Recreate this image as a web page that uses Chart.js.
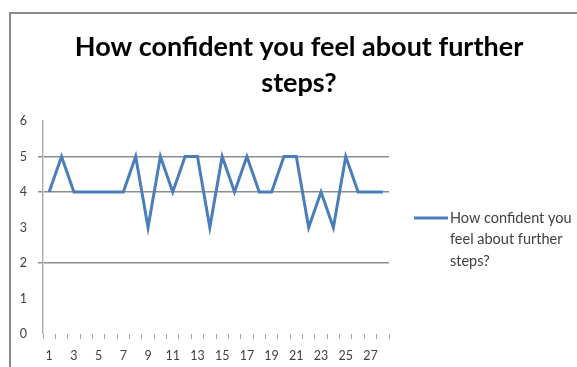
<!DOCTYPE html>
<html>
<head>
<meta charset="utf-8">
<script src="https://cdn.jsdelivr.net/npm/chart.js@4/dist/chart.umd.min.js"></script>
<style>
  html, body { margin: 0; padding: 0; background: #ffffff; }
  #wrap { position: relative; width: 577px; height: 367px; }
</style>
</head>
<body>
<div id="wrap"><canvas id="c" width="577" height="367"></canvas></div>
<script>
const categories = ['1','2','3','4','5','6','7','8','9','10','11','12','13','14','15','16','17','18','19','20','21','22','23','24','25','26','27','28'];
const seriesName = 'How confident you feel about further steps?';
const seriesValues = [4,5,4,4,4,4,4,5,3,5,4,5,5,3,5,4,5,4,4,5,5,3,4,3,5,4,4,4];
const titleLines = ['How confident you feel about further', 'steps?'];
const legendLines = ['How confident you', 'feel about further', 'steps?'];
const yTickValues = [0, 1, 2, 3, 4, 5, 6];
const visibleGridValues = [2, 4, 5];

const LINE_COLOR = '#4a7ebb';

const decorPlugin = {
  id: 'decor',
  beforeDraw(chart) {
    const ctx = chart.ctx;
    ctx.save();
    ctx.fillStyle = '#ffffff';
    ctx.fillRect(0, 0, chart.width, chart.height);
    // outer frame
    ctx.strokeStyle = '#8c8c8c';
    ctx.lineWidth = 2;
    ctx.beginPath();
    ctx.moveTo(10, chart.height + 2);
    ctx.lineTo(10, 13);
    ctx.lineTo(chart.width + 2, 13);
    ctx.stroke();
    // title
    ctx.fillStyle = '#000000';
    ctx.font = 'bold 27px Lato';
    ctx.textAlign = 'center';
    ctx.textBaseline = 'middle';
    const cx = 299;
    titleLines.forEach((t, i) => ctx.fillText(t, cx, 47 + i * 36));
    ctx.restore();
  },
  afterDraw(chart) {
    const ctx = chart.ctx;
    const ds = chart.data.datasets[0];
    ctx.save();
    ctx.strokeStyle = ds.borderColor;
    ctx.lineWidth = 3;
    ctx.beginPath();
    ctx.moveTo(414, 218);
    ctx.lineTo(448, 218);
    ctx.stroke();
    ctx.fillStyle = '#404040';
    ctx.font = '14.5px Lato';
    ctx.textAlign = 'left';
    ctx.textBaseline = 'middle';
    legendLines.forEach((t, i) => ctx.fillText(t, 450, 218 + i * 21.5));
    ctx.restore();
  }
};

new Chart(document.getElementById('c'), {
  type: 'line',
  data: {
    labels: categories,
    datasets: [{
      label: seriesName,
      data: seriesValues,
      borderColor: LINE_COLOR,
      backgroundColor: LINE_COLOR,
      borderWidth: 3,
      pointRadius: 0,
      tension: 0,
      fill: false
    }]
  },
  options: {
    responsive: false,
    animation: false,
    devicePixelRatio: 1,
    layout: { padding: { left: 10, top: 121, right: 188, bottom: 0 } },
    plugins: {
      legend: { display: false },
      title: { display: false },
      tooltip: { enabled: false }
    },
    scales: {
      x: {
        type: 'category',
        offset: true,
        afterFit(scale) { scale.height = 33; },
        border: { display: false },
        grid: {
          offset: true,
          drawOnChartArea: false,
          drawTicks: true,
          tickLength: 5,
          tickColor: '#a6a6a6',
          tickWidth: 1
        },
        ticks: {
          autoSkip: false,
          maxRotation: 0,
          minRotation: 0,
          padding: 9,
          color: '#404040',
          font: { family: 'Lato', size: 12.5 },
          callback(value, index) { return index % 2 === 0 ? categories[index] : ''; }
        }
      },
      y: {
        min: 0,
        max: 6,
        afterFit(scale) { scale.width = 33; },
        afterBuildTicks(scale) { scale.ticks = yTickValues.map(v => ({ value: v })); },
        border: { display: true, color: '#b0b0b0', width: 1.5 },
        grid: {
          drawTicks: true,
          tickLength: 5,
          lineWidth: 1.5,
          color(ctx) {
            return ctx.tick && visibleGridValues.includes(ctx.tick.value) ? '#8c8c8c' : 'rgba(0,0,0,0)';
          }
        },
        ticks: {
          stepSize: 1,
          padding: 11,
          color: '#404040',
          font: { family: 'Lato', size: 12.5 }
        }
      }
    }
  },
  plugins: [decorPlugin]
});
</script>
</body>
</html>
